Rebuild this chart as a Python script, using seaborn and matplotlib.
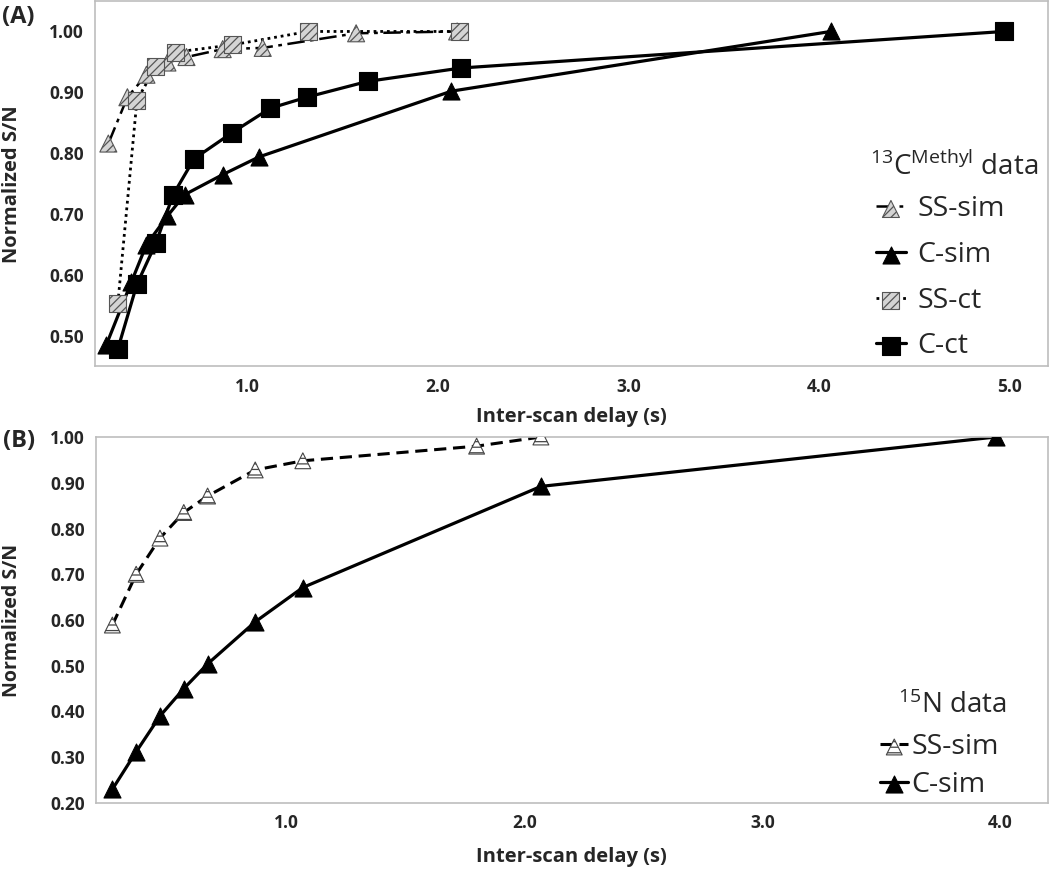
import matplotlib
matplotlib.use("Agg")

import numpy as np
import matplotlib.pyplot as plt
import seaborn as sns

# -------------------------
# DATA
# -------------------------
# panel A, 13C methyl
a_ss_sim_x = [0.27, 0.37, 0.47, 0.58, 0.68, 0.87, 1.08, 1.57, 2.10]
a_ss_sim_y = [0.816, 0.892, 0.929, 0.949, 0.958, 0.971, 0.973, 0.997, 1.000]

a_c_sim_x = [0.26, 0.39, 0.47, 0.58, 0.67, 0.87, 1.06, 2.07, 4.06]
a_c_sim_y = [0.486, 0.588, 0.650, 0.697, 0.732, 0.765, 0.794, 0.902, 1.000]

a_ss_ct_x = [0.32, 0.42, 0.52, 0.62, 0.92, 1.32, 2.11]
a_ss_ct_y = [0.554, 0.887, 0.943, 0.966, 0.978, 1.000, 1.000]

a_c_ct_x = [0.32, 0.42, 0.52, 0.61, 0.72, 0.92, 1.12, 1.31, 1.63, 2.12, 4.97]
a_c_ct_y = [0.479, 0.585, 0.653, 0.732, 0.791, 0.834, 0.874, 0.892, 0.918, 0.940, 1.000]

# panel B, 15N
b_ss_sim_x = [0.27, 0.37, 0.47, 0.57, 0.67, 0.87, 1.07, 1.80, 2.07]
b_ss_sim_y = [0.589, 0.700, 0.779, 0.835, 0.871, 0.928, 0.948, 0.980, 1.000]

b_c_sim_x = [0.27, 0.37, 0.47, 0.57, 0.67, 0.87, 1.07, 2.07, 3.98]
b_c_sim_y = [0.230, 0.312, 0.390, 0.450, 0.504, 0.596, 0.671, 0.892, 1.000]

a_labels = ["SS-sim", "C-sim", "SS-ct", "C-ct"]
b_labels = ["SS-sim", "C-sim"]

# -------------------------
# STYLE
# -------------------------
sns.set_style("white")
plt.rcParams["font.family"] = ["Open Sans", "DejaVu Sans"]
plt.rcParams["mathtext.fontset"] = "custom"
plt.rcParams["mathtext.rm"] = "Open Sans"
plt.rcParams["hatch.linewidth"] = 0.9

GRAY = "#bdbdbd"
W, H = 1050, 871

fig = plt.figure(figsize=(W / 100, H / 100), dpi=100)


def px_axes(l, t, r, b):
    return fig.add_axes([l / W, 1 - b / H, (r - l) / W, (b - t) / H])


def draw(ax, x, y, marker, ls, lw, face, edge, hatch, size):
    sns.lineplot(x=x, y=y, ax=ax, color="black", linewidth=lw,
                 linestyle=ls, zorder=2)
    line = ax.lines[-1]
    sns.scatterplot(x=x, y=y, ax=ax, marker=marker, s=size,
                    color=face, edgecolor=edge, linewidth=0.8,
                    hatch=hatch, zorder=3)
    return (line, ax.collections[-1])


def style_axes(ax, xmax, ylo, yhi, ystep, ylabels_step, ylab_size):
    ax.set_xlim(0.2, xmax)
    ax.set_ylim(ylo, yhi)
    xt = np.round(np.arange(0.2, xmax + 0.001, 0.2), 2)
    ax.set_xticks(xt)
    ax.set_xticklabels(["%.1f" % v if abs(v - round(v)) < 1e-6 else "" for v in xt])
    yt = np.round(np.arange(ylo, yhi + 0.001, ystep), 2)
    ax.set_yticks(yt)
    ax.set_yticklabels(["%.2f" % v if abs(v / ylabels_step - round(v / ylabels_step)) < 1e-6 else ""
                        for v in yt])
    for s in ax.spines.values():
        s.set_color(GRAY)
        s.set_linewidth(1.2)
        s.set_visible(True)
    ax.tick_params(axis="both", which="major", direction="out", length=5,
                   width=1.1, color=GRAY, labelsize=12.5, pad=3)
    for lab in ax.get_xticklabels() + ax.get_yticklabels():
        lab.set_fontweight("bold")
    ax.set_ylabel("Normalized S/N", fontsize=ylab_size, fontweight="bold")
    ax.set_xlabel("Inter-scan delay (s)", fontsize=14.5, fontweight="bold")


# -------------------------
# PANEL A
# -------------------------
axA = px_axes(95, 1, 1048, 366.5)

hA = [
    draw(axA, a_ss_sim_x, a_ss_sim_y, "^", (0, (7, 2.2, 1.5, 2.2)), 1.8,
         "#d4d4d4", "#555555", "////", 150),
    draw(axA, a_c_sim_x, a_c_sim_y, "^", "-", 2.3,
         "black", "black", None, 150),
    draw(axA, a_ss_ct_x, a_ss_ct_y, "s", (0, (1, 1.4)), 2.0,
         "#d4d4d4", "#555555", "////", 150),
    draw(axA, a_c_ct_x, a_c_ct_y, "s", "-", 2.3,
         "black", "black", None, 150),
]

style_axes(axA, 5.2, 0.45, 1.05, 0.05, 0.1, 14.5)
axA.yaxis.set_label_coords(-0.077, 0.5)
axA.xaxis.set_label_coords(0.5, -0.11)

legA = axA.legend(hA, a_labels, loc="upper left", bbox_to_anchor=(0.8195, 0.468),
                  frameon=False, fontsize=20.5, handlelength=1.05,
                  handletextpad=0.4, labelspacing=0.62, borderpad=0,
                  borderaxespad=0)
fig.text(870 / W, 1 - 175 / H, r"$\mathrm{^{13}C^{Methyl}}$ data",
         fontsize=20, va="baseline", ha="left")

# -------------------------
# PANEL B
# -------------------------
axB = px_axes(95.7, 437, 1048, 803)

hB = [
    draw(axB, b_ss_sim_x, b_ss_sim_y, "^", (0, (4, 2.2)), 2.2,
         "white", "#444444", "---", 130),
    draw(axB, b_c_sim_x, b_c_sim_y, "^", "-", 2.3,
         "black", "black", None, 150),
]

style_axes(axB, 4.2, 0.2, 1.0, 0.1, 0.1, 14)
axB.yaxis.set_label_coords(-0.0774, 0.5)
axB.xaxis.set_label_coords(0.5, -0.12)

legB = axB.legend(hB, b_labels, loc="upper left", bbox_to_anchor=(0.8236, 0.19),
                  frameon=False, fontsize=20.5, handlelength=1.0,
                  handletextpad=0.1, labelspacing=0.32, borderpad=0,
                  borderaxespad=0)
fig.text(898 / W, 1 - 713 / H, r"$\mathrm{^{15}N}$ data",
         fontsize=20, va="baseline", ha="left")

# panel letters
fig.text(2 / W, 1 - 17 / H, "(A)", fontsize=17, fontweight="bold", va="center")
fig.text(3 / W, 1 - 441 / H, "(B)", fontsize=17, fontweight="bold", va="center")

fig.savefig("out.png", dpi=100)
